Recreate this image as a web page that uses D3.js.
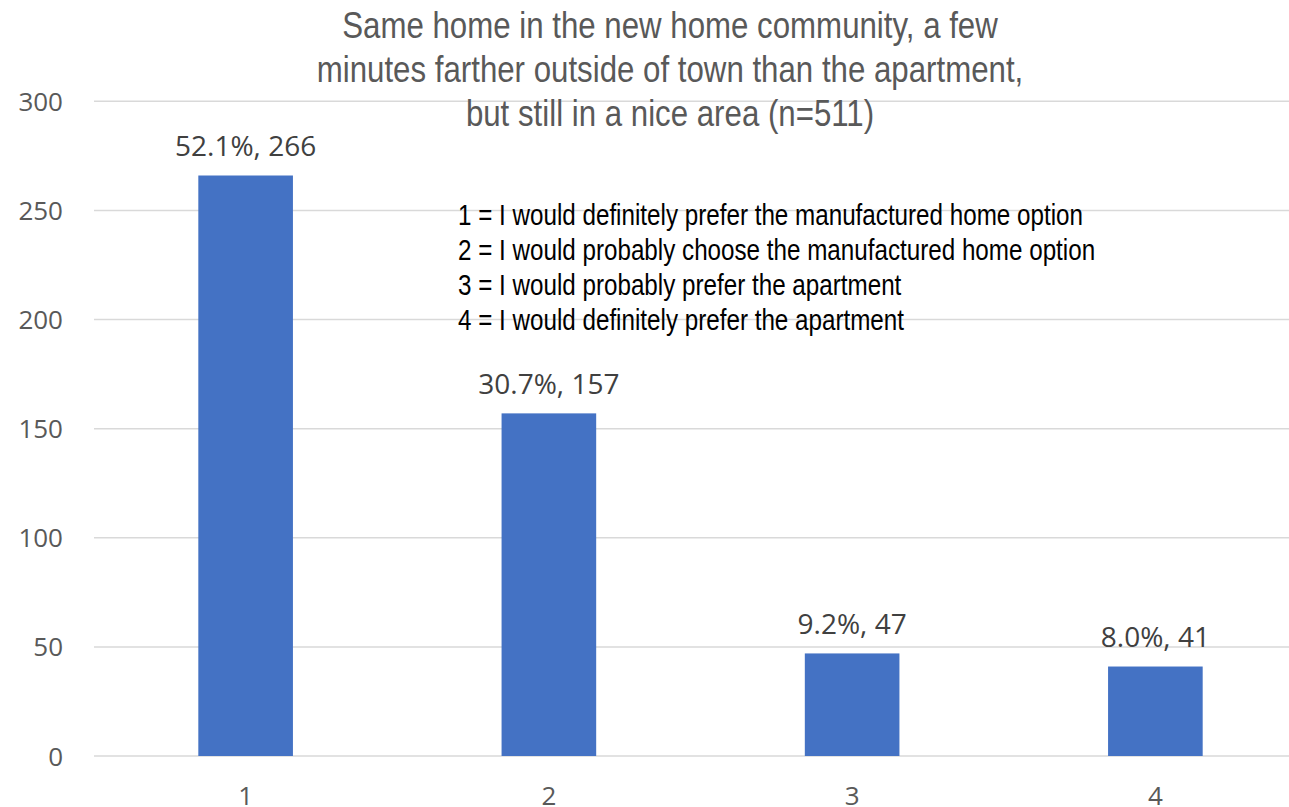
<!DOCTYPE html>
<html>
<head>
<meta charset="utf-8">
<script src="https://cdn.jsdelivr.net/npm/d3@7"></script>
<style>
  html, body { margin: 0; padding: 0; background: #ffffff; overflow: hidden; }
  svg { display: block; }
</style>
</head>
<body>
<svg id="chart" width="1289" height="807"></svg>
<script>
// Survey responses, counts per answer option
const categories = ["1", "2", "3", "4"];
const counts = [266, 157, 47, 41];
const shares = ["52.1%", "30.7%", "9.2%", "8.0%"];
const yTicks = [0, 50, 100, 150, 200, 250, 300];
const titleLines = [
  "Same home in the new home community, a few",
  "minutes farther outside of town than the apartment,",
  "but still in a nice area (n=511)"
];
const legendLines = [
  "1 = I would definitely prefer the manufactured home option",
  "2 = I would probably choose the manufactured home option",
  "3 = I would probably prefer the apartment",
  "4 = I would definitely prefer the apartment"
];

const svg = d3.select("#chart");
const plot = { left: 94, right: 1307, top: 101.3, bottom: 756 };
const narrowFont = "'Liberation Sans Narrow', 'Arial Narrow', 'Liberation Sans', Arial, sans-serif";

const x = d3.scaleBand()
  .domain(categories)
  .range([plot.left, plot.right])
  .paddingInner(0.688)
  .paddingOuter(0.344);

const y = d3.scaleLinear()
  .domain([0, 300])
  .range([plot.bottom, plot.top]);

// Horizontal gridlines
svg.append("g")
  .selectAll("line")
  .data(yTicks)
  .join("line")
  .attr("x1", plot.left)
  .attr("x2", plot.right)
  .attr("y1", d => y(d))
  .attr("y2", d => y(d))
  .attr("stroke", "#d9d9d9")
  .attr("stroke-width", 1.5);

// Y axis labels
const yAxis = d3.axisLeft(y).tickValues(yTicks).tickSize(0).tickPadding(0);
svg.append("g")
  .attr("transform", `translate(63,0)`)
  .call(yAxis)
  .call(g => g.select(".domain").remove())
  .call(g => g.selectAll("text")
    .attr("fill", "#595959")
    .attr("font-family", "'Open Sans', sans-serif")
    .attr("font-size", 26)
    .attr("dy", "0.35em"));

// Bars
svg.append("g")
  .selectAll("rect")
  .data(categories)
  .join("rect")
  .attr("x", d => x(d))
  .attr("width", x.bandwidth())
  .attr("y", (d, i) => y(counts[i]))
  .attr("height", (d, i) => y(0) - y(counts[i]))
  .attr("fill", "#4472c4");

// Data labels
svg.append("g")
  .selectAll("text")
  .data(categories)
  .join("text")
  .attr("x", d => x(d) + x.bandwidth() / 2)
  .attr("y", (d, i) => y(counts[i]) - 19.5)
  .attr("text-anchor", "middle")
  .attr("fill", "#404040")
  .attr("font-family", "'Open Sans', sans-serif")
  .attr("font-size", 28)
  .text((d, i) => `${shares[i]}, ${counts[i]}`);

// X axis labels
const xAxis = d3.axisBottom(x).tickSize(0).tickPadding(0);
svg.append("g")
  .attr("transform", `translate(0,${plot.bottom})`)
  .call(xAxis)
  .call(g => g.select(".domain").remove())
  .call(g => g.selectAll("text")
    .attr("fill", "#595959")
    .attr("font-family", "'Open Sans', sans-serif")
    .attr("font-size", 26)
    .attr("dy", null)
    .attr("y", 48.5));

// Title (condensed face, drawn horizontally compressed)
svg.append("g")
  .selectAll("text")
  .data(titleLines)
  .join("text")
  .attr("transform", (d, i) => `translate(670,${38 + i * 43.8}) scale(0.868,1)`)
  .attr("text-anchor", "middle")
  .attr("fill", "#595959")
  .attr("font-family", narrowFont)
  .attr("font-size", 36)
  .text(d => d);

// Category key
svg.append("g")
  .selectAll("text")
  .data(legendLines)
  .join("text")
  .attr("transform", (d, i) => `translate(458,${224.5 + i * 35}) scale(0.835,1)`)
  .attr("fill", "#000000")
  .attr("font-family", narrowFont)
  .attr("font-size", 29)
  .text(d => d);
</script>
</body>
</html>
